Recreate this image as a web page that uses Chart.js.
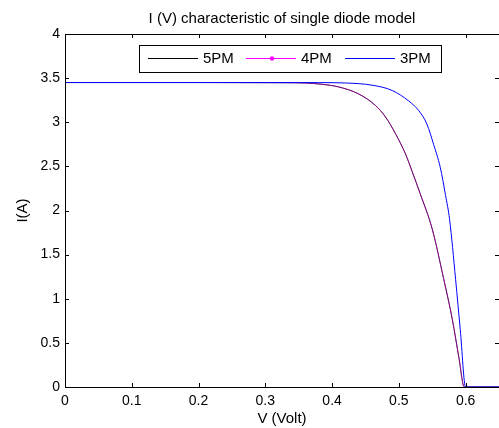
<!DOCTYPE html>
<html>
<head>
<meta charset="utf-8">
<script src="https://cdn.jsdelivr.net/npm/chart.js@4/dist/chart.umd.min.js"></script>
<style>
  html, body { margin: 0; padding: 0; background: #fff; }
  #wrap { width: 499px; height: 428px; }
</style>
</head>
<body>
<div id="wrap"><canvas id="iv"></canvas></div>
<script>
// values
const chartTitle = 'I (V) characteristic of single diode model';
const seriesNames = ['5PM', '4PM', '3PM'];

const volt5 = [0, 0.2, 0.33, 0.36, 0.385, 0.41, 0.44, 0.465, 0.48, 0.495, 0.51, 0.52, 0.532, 0.55, 0.567, 0.58, 0.59, 0.598, 0.65];
const curr5 = [3.45, 3.45, 3.448, 3.445, 3.43, 3.40, 3.32, 3.19, 3.06, 2.87, 2.64, 2.44, 2.19, 1.79, 1.23, 0.77, 0.33, 0, 0];

const volt4 = [0, 0.2, 0.33, 0.36, 0.385, 0.41, 0.44, 0.465, 0.48, 0.495, 0.51, 0.52, 0.532, 0.55, 0.567, 0.58, 0.59, 0.598, 0.65];
const curr4 = [3.45, 3.45, 3.448, 3.445, 3.43, 3.40, 3.32, 3.19, 3.06, 2.87, 2.64, 2.44, 2.19, 1.79, 1.23, 0.77, 0.33, 0, 0];

const volt3 = [0, 0.3, 0.38, 0.42, 0.46, 0.49, 0.515, 0.53, 0.542, 0.552, 0.562, 0.57, 0.576, 0.585, 0.592, 0.6, 0.65];
const curr3 = [3.45, 3.45, 3.449, 3.445, 3.42, 3.36, 3.24, 3.13, 2.98, 2.75, 2.49, 2.17, 1.90, 1.22, 0.65, 0, 0];

const xTicks = [0, 0.1, 0.2, 0.3, 0.4, 0.5, 0.6];
const yTicks = [0, 0.5, 1, 1.5, 2, 2.5, 3, 3.5, 4];

const FONT = 'Liberation Sans, Arial, sans-serif';

function pts(xs, ys) {
  return xs.map((x, i) => ({ x: x, y: ys[i] }));
}

// matlab style box, inward ticks, title and legend inside the axes
const matlabBox = {
  id: 'matlabBox',
  afterDraw(chart) {
    const ctx = chart.ctx;
    const a = chart.chartArea;
    const xs = chart.scales.x, ys = chart.scales.y;
    ctx.save();
    ctx.strokeStyle = '#000';
    ctx.lineWidth = 1;
    ctx.strokeRect(Math.round(a.left) + 0.5, Math.round(a.top) + 0.5, Math.round(a.right - a.left), Math.round(a.bottom - a.top));
    ctx.beginPath();
    xTicks.forEach(v => {
      const px = Math.round(xs.getPixelForValue(v)) + 0.5;
      ctx.moveTo(px, a.bottom); ctx.lineTo(px, a.bottom - 4);
      ctx.moveTo(px, a.top); ctx.lineTo(px, a.top + 4);
    });
    yTicks.forEach(v => {
      const py = Math.round(ys.getPixelForValue(v)) + 0.5;
      ctx.moveTo(a.left, py); ctx.lineTo(a.left + 4, py);
      ctx.moveTo(a.right, py); ctx.lineTo(a.right - 4, py);
    });
    ctx.stroke();

    // title, centred on the axes
    ctx.fillStyle = '#000';
    ctx.font = '15px ' + FONT;
    ctx.textAlign = 'center';
    ctx.textBaseline = 'alphabetic';
    ctx.fillText(chartTitle, (a.left + a.right) / 2, 23);

    // legend
    const lx = 139, ly = 45, lw = 302, lh = 27;
    ctx.fillStyle = '#fff';
    ctx.fillRect(lx, ly, lw, lh);
    ctx.strokeRect(lx + 0.5, ly + 0.5, lw, lh);
    const starts = [148, 246, 345];
    const cy = ly + 13.5;
    ctx.textAlign = 'left';
    ctx.textBaseline = 'middle';
    chart.data.datasets.forEach((ds, i) => {
      const x0 = starts[i];
      ctx.strokeStyle = ds.legendColor;
      ctx.beginPath();
      ctx.moveTo(x0, cy); ctx.lineTo(x0 + 50, cy);
      ctx.stroke();
      if (ds.legendDot) {
        ctx.fillStyle = ds.legendColor;
        ctx.beginPath();
        ctx.arc(x0 + 26, cy, 2.2, 0, Math.PI * 2);
        ctx.fill();
      }
      ctx.fillStyle = '#000';
      ctx.fillText(ds.label, x0 + 55, cy + 0.5);
    });
    ctx.restore();
  }
};

new Chart(document.getElementById('iv'), {
  type: 'scatter',
  data: {
    datasets: [
      { label: seriesNames[0], data: pts(volt5, curr5), borderColor: '#000000', legendColor: '#000000', order: 3 },
      { label: seriesNames[1], data: pts(volt4, curr4), borderColor: 'rgba(255,0,255,0.5)', legendColor: '#ff00ff', legendDot: true, order: 2 },
      { label: seriesNames[2], data: pts(volt3, curr3), borderColor: '#0000ff', legendColor: '#0000ff', order: 1 }
    ].map(d => Object.assign({
      showLine: true,
      pointRadius: 0,
      borderWidth: 1,
      cubicInterpolationMode: 'monotone',
      clip: false
    }, d))
  },
  options: {
    responsive: true,
    maintainAspectRatio: false,
    animation: false,
    layout: { padding: { top: 34, right: 0, bottom: 0, left: 0 } },
    plugins: {
      legend: { display: false },
      tooltip: { enabled: false },
      title: { display: false }
    },
    scales: {
      x: {
        type: 'linear',
        min: 0,
        max: 0.65,
        grid: { display: false, drawTicks: false },
        border: { display: false },
        afterBuildTicks: s => { s.ticks = xTicks.map(v => ({ value: v })); },
        afterFit: s => { s.height = 41; },
        ticks: {
          color: '#000',
          font: { family: FONT, size: 14 },
          padding: 6,
          maxRotation: 0,
          callback: v => String(+v.toFixed(2))
        },
        title: {
          display: true,
          text: 'V (Volt)',
          color: '#000',
          font: { family: FONT, size: 15 },
          padding: { top: 0, bottom: 0 }
        }
      },
      y: {
        type: 'linear',
        min: 0,
        max: 4,
        grid: { display: false, drawTicks: false },
        border: { display: false },
        afterBuildTicks: s => { s.ticks = yTicks.map(v => ({ value: v })); },
        afterFit: s => { s.width = 65; },
        ticks: {
          color: '#000',
          font: { family: FONT, size: 14 },
          padding: 5,
          callback: v => String(+v.toFixed(2))
        },
        title: {
          display: true,
          text: 'I(A)',
          color: '#000',
          font: { family: FONT, size: 15 },
          padding: { top: 14, bottom: 0 }
        }
      }
    }
  },
  plugins: [matlabBox]
});
</script>
</body>
</html>
